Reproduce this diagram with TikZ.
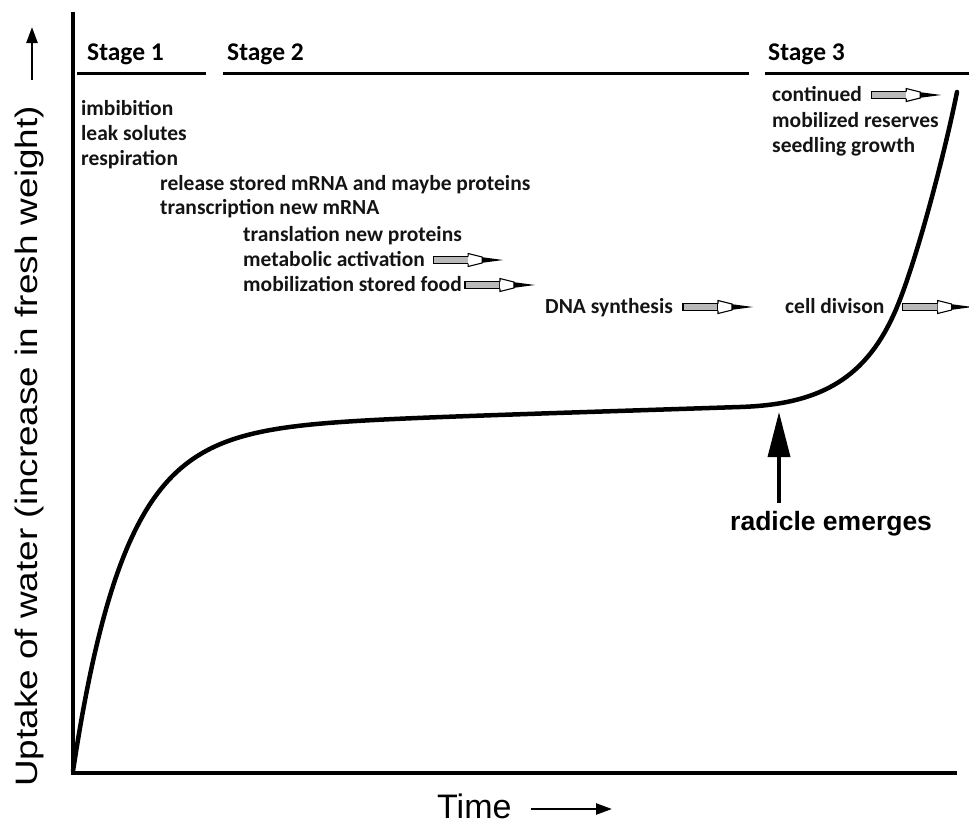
\documentclass[tikz,border=0pt]{standalone}
\usepackage{fontspec}
\setmainfont{Carlito}
\newfontfamily\arialf{Liberation Sans}
\usetikzlibrary{arrows.meta}
\begin{document}
\begin{tikzpicture}[x=1pt,y=-1pt,
  lbl/.style={font=\bfseries\fontsize{21.5}{25}\selectfont, anchor=base west, inner sep=0pt, text=black!92},
  stagelbl/.style={font=\bfseries\fontsize{25.5}{30}\selectfont, anchor=base west, inner sep=0pt},
  axisline/.style={line width=3.5pt},
  stageline/.style={line width=3pt},
  curveline/.style={line width=4.5pt, line cap=round, line join=round},
  fatarrow/.pic={
    \draw[line width=1.1pt, fill=gray!55] (0,-3.5) rectangle (35,3.5);
    \draw[line width=1.1pt, fill=white, line join=miter] (35,-3.5) -- (35,-6.5) -- (49,-3) -- (49,3) -- (35,6.5) -- (35,3.5);
    \fill (49,-2.8) -- (70,0) -- (49,2.8) -- cycle;
  }
]
\useasboundingbox (0,0) rectangle (969,825);
\clip (0,0) rectangle (969,825);

% axes
\coordinate (O) at (73,773);
\coordinate (ytop) at (73,12);
\coordinate (xend) at (957,773);
\draw[axisline] (ytop) -- (O) -- (xend);

% stage lines
\coordinate (s1a) at (77,73);  \coordinate (s1b) at (206,73);
\coordinate (s2a) at (223,73); \coordinate (s2b) at (749,73);
\coordinate (s3a) at (765,73); \coordinate (s3b) at (969,73);
\draw[stageline] (s1a) -- (s1b);
\draw[stageline] (s2a) -- (s2b);
\draw[stageline] (s3a) -- (s3b);

\node[stagelbl] (st1) at (87,60) {Stage 1};
\node[stagelbl] (st2) at (227,60) {Stage 2};
\node[stagelbl] (st3) at (768,60) {Stage 3};

% texts
\node[lbl] (imb) at (81,115) {imbibition};
\node[lbl] (leak) at (81,140) {leak solutes};
\node[lbl] (resp) at (81,165) {respiration};
\node[lbl] (rel) at (160,190) {release stored mRNA and maybe proteins};
\node[lbl] (trn) at (160,214) {transcription new mRNA};
\node[lbl] (trl) at (243,241) {translation new proteins};
\node[lbl] (metab) at (243,266) {metabolic activation};
\node[lbl] (mobil) at (243,291) {mobilization stored food};
\node[lbl] (dna) at (545,313) {DNA synthesis};
\node[lbl] (cont) at (772,101) {continued};
\node[lbl] (mres) at (772,127) {mobilized reserves};
\node[lbl] (seed) at (772,152) {seedling growth};
\node[lbl] (cell) at (785,313) {cell divison};

\pic at ([xshift=8pt,yshift=6pt]metab.base east) {fatarrow};
\pic at ([xshift=3pt,yshift=6pt]mobil.base east) {fatarrow};
\pic at ([xshift=10pt,yshift=6pt]dna.base east) {fatarrow};
\pic at ([xshift=9pt,yshift=6pt]cont.base east) {fatarrow};
\pic at ([xshift=18pt,yshift=6pt]cell.base east) {fatarrow};

% uptake curve
\draw[curveline] plot[domain=73:740, samples=160, smooth]
    (\x, {771 - 342.2*(1-exp(-(\x-73)/52)) - 0.0327*(\x-73)})
  .. controls (820,404.4) and (867,379) .. (897,307)
  .. controls (917,259) and (945,152) .. (957,92);

% radicle
\node[font=\arialf\bfseries\fontsize{26.5}{31}\selectfont, anchor=base west, inner sep=0pt] (radicle) at (730,530) {radicle emerges};
\coordinate (emerge) at (779,412);
\coordinate (emergebase) at (779,503);
\draw[line width=3.5pt, -{Triangle[length=45pt,width=22pt]}] (emergebase) -- (emerge);

% axis labels
\node[font=\arialf\fontsize{31}{36}\selectfont, rotate=90, anchor=base west, inner sep=0pt] (ylabel) at (37,787) {\scalebox{1.19}[1]{Uptake of water (increase in fresh weight)}};
\coordinate (yab) at (32,80);
\coordinate (yat) at (32,27);
\draw[line width=2.5pt, -{Triangle[length=16pt,width=11pt]}] (yab) -- (yat);

\node[font=\arialf\fontsize{34}{40}\selectfont, anchor=base west, inner sep=0pt] (time) at (437,818) {Time};
\coordinate (tat) at (612,809);
\draw[line width=2.5pt, -{Triangle[length=16pt,width=11pt]}] ([xshift=19pt]time.base east |- tat) -- (tat);
\end{tikzpicture}
\end{document}
